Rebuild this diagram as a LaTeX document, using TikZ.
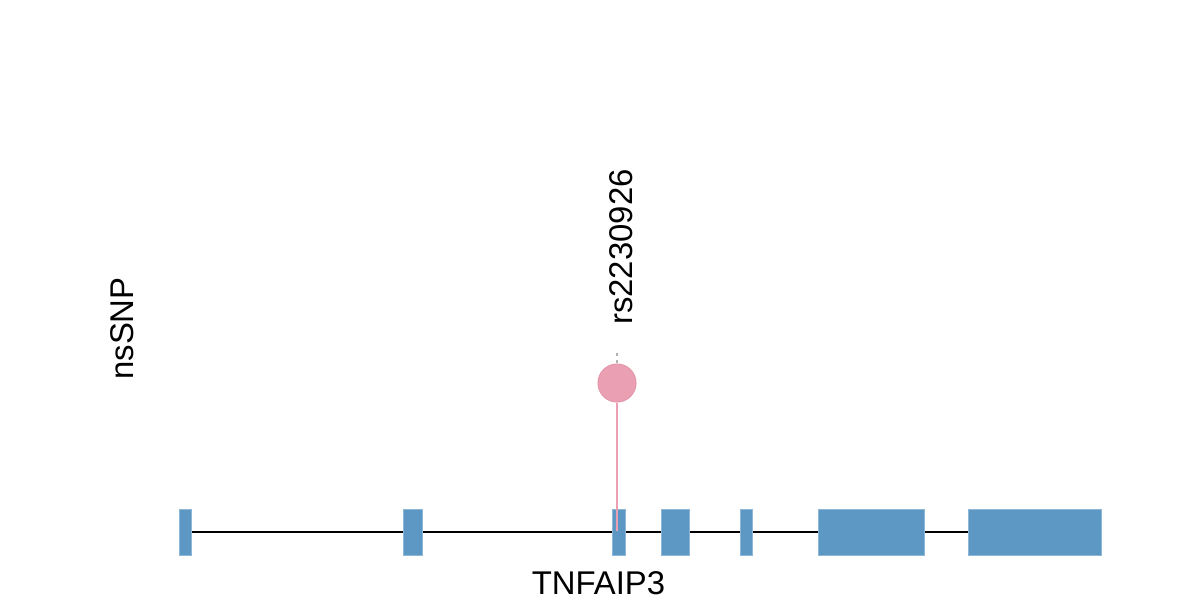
\documentclass[tikz,border=0pt]{standalone}
\usepackage{fontspec}
\setmainfont{Liberation Sans}
\usetikzlibrary{positioning, backgrounds}
\definecolor{exonblue}{RGB}{93,151,196}
\definecolor{snppink}{RGB}{234,160,178}
\definecolor{snpedge}{RGB}{228,150,170}
\tikzset{
    font=\fontsize{18.7}{22}\selectfont,
    exon_box/.style={
        rectangle,
        fill=exonblue,
        draw=exonblue!70!white,
        line width=0.3pt,
        minimum height=0.92cm,
        inner sep=0pt
    },
    intron_line/.style={
        draw=black,
        line width=1.1pt
    },
    snp_dot/.style={
        circle,
        fill=snppink,
        draw=snpedge,
        line width=0.6pt,
        minimum size=0.76cm,
        inner sep=0pt
    },
    snp_stem/.style={
        draw=snppink,
        line width=1.1pt
    },
    snp_tick/.style={
        draw=gray!60,
        line width=0.8pt,
        dash pattern=on 2pt off 2pt
    },
    track_label/.style={
        rotate=90,
        anchor=base west,
        inner sep=0pt
    }
}

\begin{document}
\begin{tikzpicture}
\useasboundingbox (0,0) rectangle (24,12);

% --- Exons ---
\node[exon_box, minimum width=0.24cm] (Exon1) at (3.70,1.36) {};
\node[exon_box, minimum width=0.38cm] (Exon2) at (8.25,1.36) {};
\node[exon_box, minimum width=0.26cm] (Exon3) at (12.37,1.36) {};
\node[exon_box, minimum width=0.56cm] (Exon4) at (13.50,1.36) {};
\node[exon_box, minimum width=0.24cm] (Exon5) at (14.92,1.36) {};
\node[exon_box, minimum width=2.12cm] (Exon6) at (17.42,1.36) {};
\node[exon_box, minimum width=2.66cm] (Exon7) at (20.69,1.36) {};

% --- Backbone ---
\begin{scope}[on background layer]
\draw[intron_line] (Exon1.center) -- (Exon7.center);
\end{scope}

% --- SNP ---
\node[snp_dot] (SNP) at (12.34,4.34) {};
\coordinate (SNP_foot) at (12.34,1.38);
\coordinate (SNP_tip) at (12.34,5.0);
\draw[snp_stem] (SNP) -- (SNP_foot);
\draw[snp_tick] (SNP) -- (SNP_tip);
\node[track_label] (SNP_name) at (12.64,5.5) {rs2230926};

% --- Labels ---
\node[track_label] (TrackName) at (2.66,4.4) {nsSNP};
\node[anchor=base, inner sep=0pt] (GeneName) at (11.97,0.11) {TNFAIP3};

\end{tikzpicture}
\end{document}
